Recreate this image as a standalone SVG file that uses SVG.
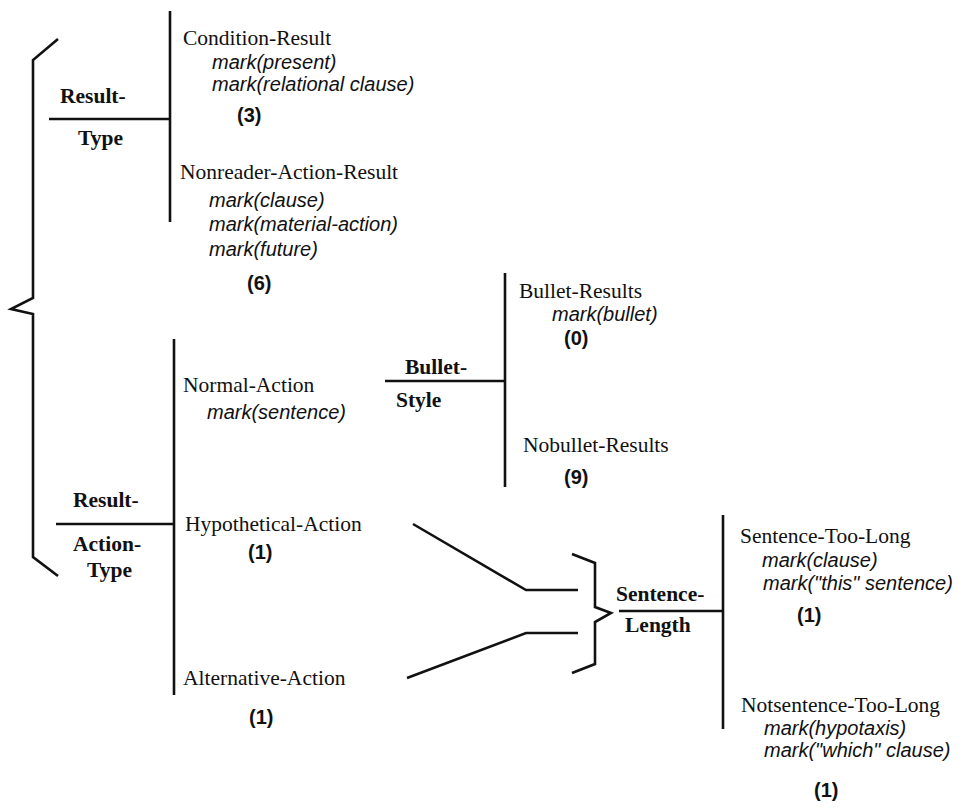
<svg xmlns="http://www.w3.org/2000/svg" width="965" height="808" viewBox="0 0 965 808">
<style>
.ln{fill:none;stroke:#111;stroke-width:2.6;stroke-linejoin:miter;stroke-linecap:butt}
.nm{font-family:"Liberation Serif","Times New Roman",serif;font-size:21.5px;fill:#111}
.lb{font-family:"Liberation Serif","Times New Roman",serif;font-size:21.5px;font-weight:bold;fill:#111}
.mk{font-family:"Liberation Sans",Arial,sans-serif;font-size:20px;font-style:italic;fill:#111}
.ct{font-family:"Liberation Sans",Arial,sans-serif;font-size:20px;font-weight:bold;fill:#111}
</style>
<rect width="965" height="808" fill="#fff"/>
<g id="connectors">
<path class="ln" d="M58,39 L33,60 L33,298 L11,309 L33,314 L33,557 L58,576"/>
<path class="ln" d="M49,119 L170,119 M170,11 L170,222"/>
<path class="ln" d="M56,524 L174,524 M174,339 L174,695"/>
<path class="ln" d="M385,381 L505,381 M505,273 L505,487"/>
<path class="ln" d="M413,524 L526,590 L578,590 M407,678 L526,633 L578,633"/>
<path class="ln" d="M572,554 L595,563 L595,607 L611,613 L595,622 L595,664 L572,673"/>
<path class="ln" d="M619,611 L723,611 M723,515 L723,729"/>
</g>
<g id="result-type">
<text class="lb" x="60" y="103">Result-</text>
<text class="lb" x="78" y="145">Type</text>
</g>
<g id="condition-result">
<text class="nm" x="183" y="45">Condition-Result</text>
<text class="mk" x="212" y="69">mark(present)</text>
<text class="mk" x="212" y="91">mark(relational clause)</text>
<text class="ct" x="237" y="122">(3)</text>
</g>
<g id="nonreader-action-result">
<text class="nm" x="180" y="179">Nonreader-Action-Result</text>
<text class="mk" x="209" y="207">mark(clause)</text>
<text class="mk" x="209" y="231">mark(material-action)</text>
<text class="mk" x="209" y="256">mark(future)</text>
<text class="ct" x="247" y="290">(6)</text>
</g>
<g id="result-action-type">
<text class="lb" x="73" y="507">Result-</text>
<text class="lb" x="73" y="551">Action-</text>
<text class="lb" x="87" y="577">Type</text>
</g>
<g id="normal-action">
<text class="nm" x="183" y="392">Normal-Action</text>
<text class="mk" x="207" y="419">mark(sentence)</text>
</g>
<g id="hypothetical-action">
<text class="nm" x="185" y="531">Hypothetical-Action</text>
<text class="ct" x="248" y="559">(1)</text>
</g>
<g id="alternative-action">
<text class="nm" x="183" y="685">Alternative-Action</text>
<text class="ct" x="249" y="724">(1)</text>
</g>
<g id="bullet-style">
<text class="lb" x="405" y="374">Bullet-</text>
<text class="lb" x="396" y="407">Style</text>
</g>
<g id="bullet-results">
<text class="nm" x="519" y="298">Bullet-Results</text>
<text class="mk" x="552" y="321">mark(bullet)</text>
<text class="ct" x="564" y="345">(0)</text>
</g>
<g id="nobullet-results">
<text class="nm" x="523" y="452">Nobullet-Results</text>
<text class="ct" x="564" y="484">(9)</text>
</g>
<g id="sentence-length">
<text class="lb" x="616" y="601">Sentence-</text>
<text class="lb" x="625" y="632">Length</text>
</g>
<g id="sentence-too-long">
<text class="nm" x="740" y="543">Sentence-Too-Long</text>
<text class="mk" x="762" y="567">mark(clause)</text>
<text class="mk" x="763" y="590">mark("this" sentence)</text>
<text class="ct" x="797" y="622">(1)</text>
</g>
<g id="notsentence-too-long">
<text class="nm" x="741" y="712">Notsentence-Too-Long</text>
<text class="mk" x="764" y="735">mark(hypotaxis)</text>
<text class="mk" x="764" y="757">mark("which" clause)</text>
<text class="ct" x="814" y="797">(1)</text>
</g>
</svg>
